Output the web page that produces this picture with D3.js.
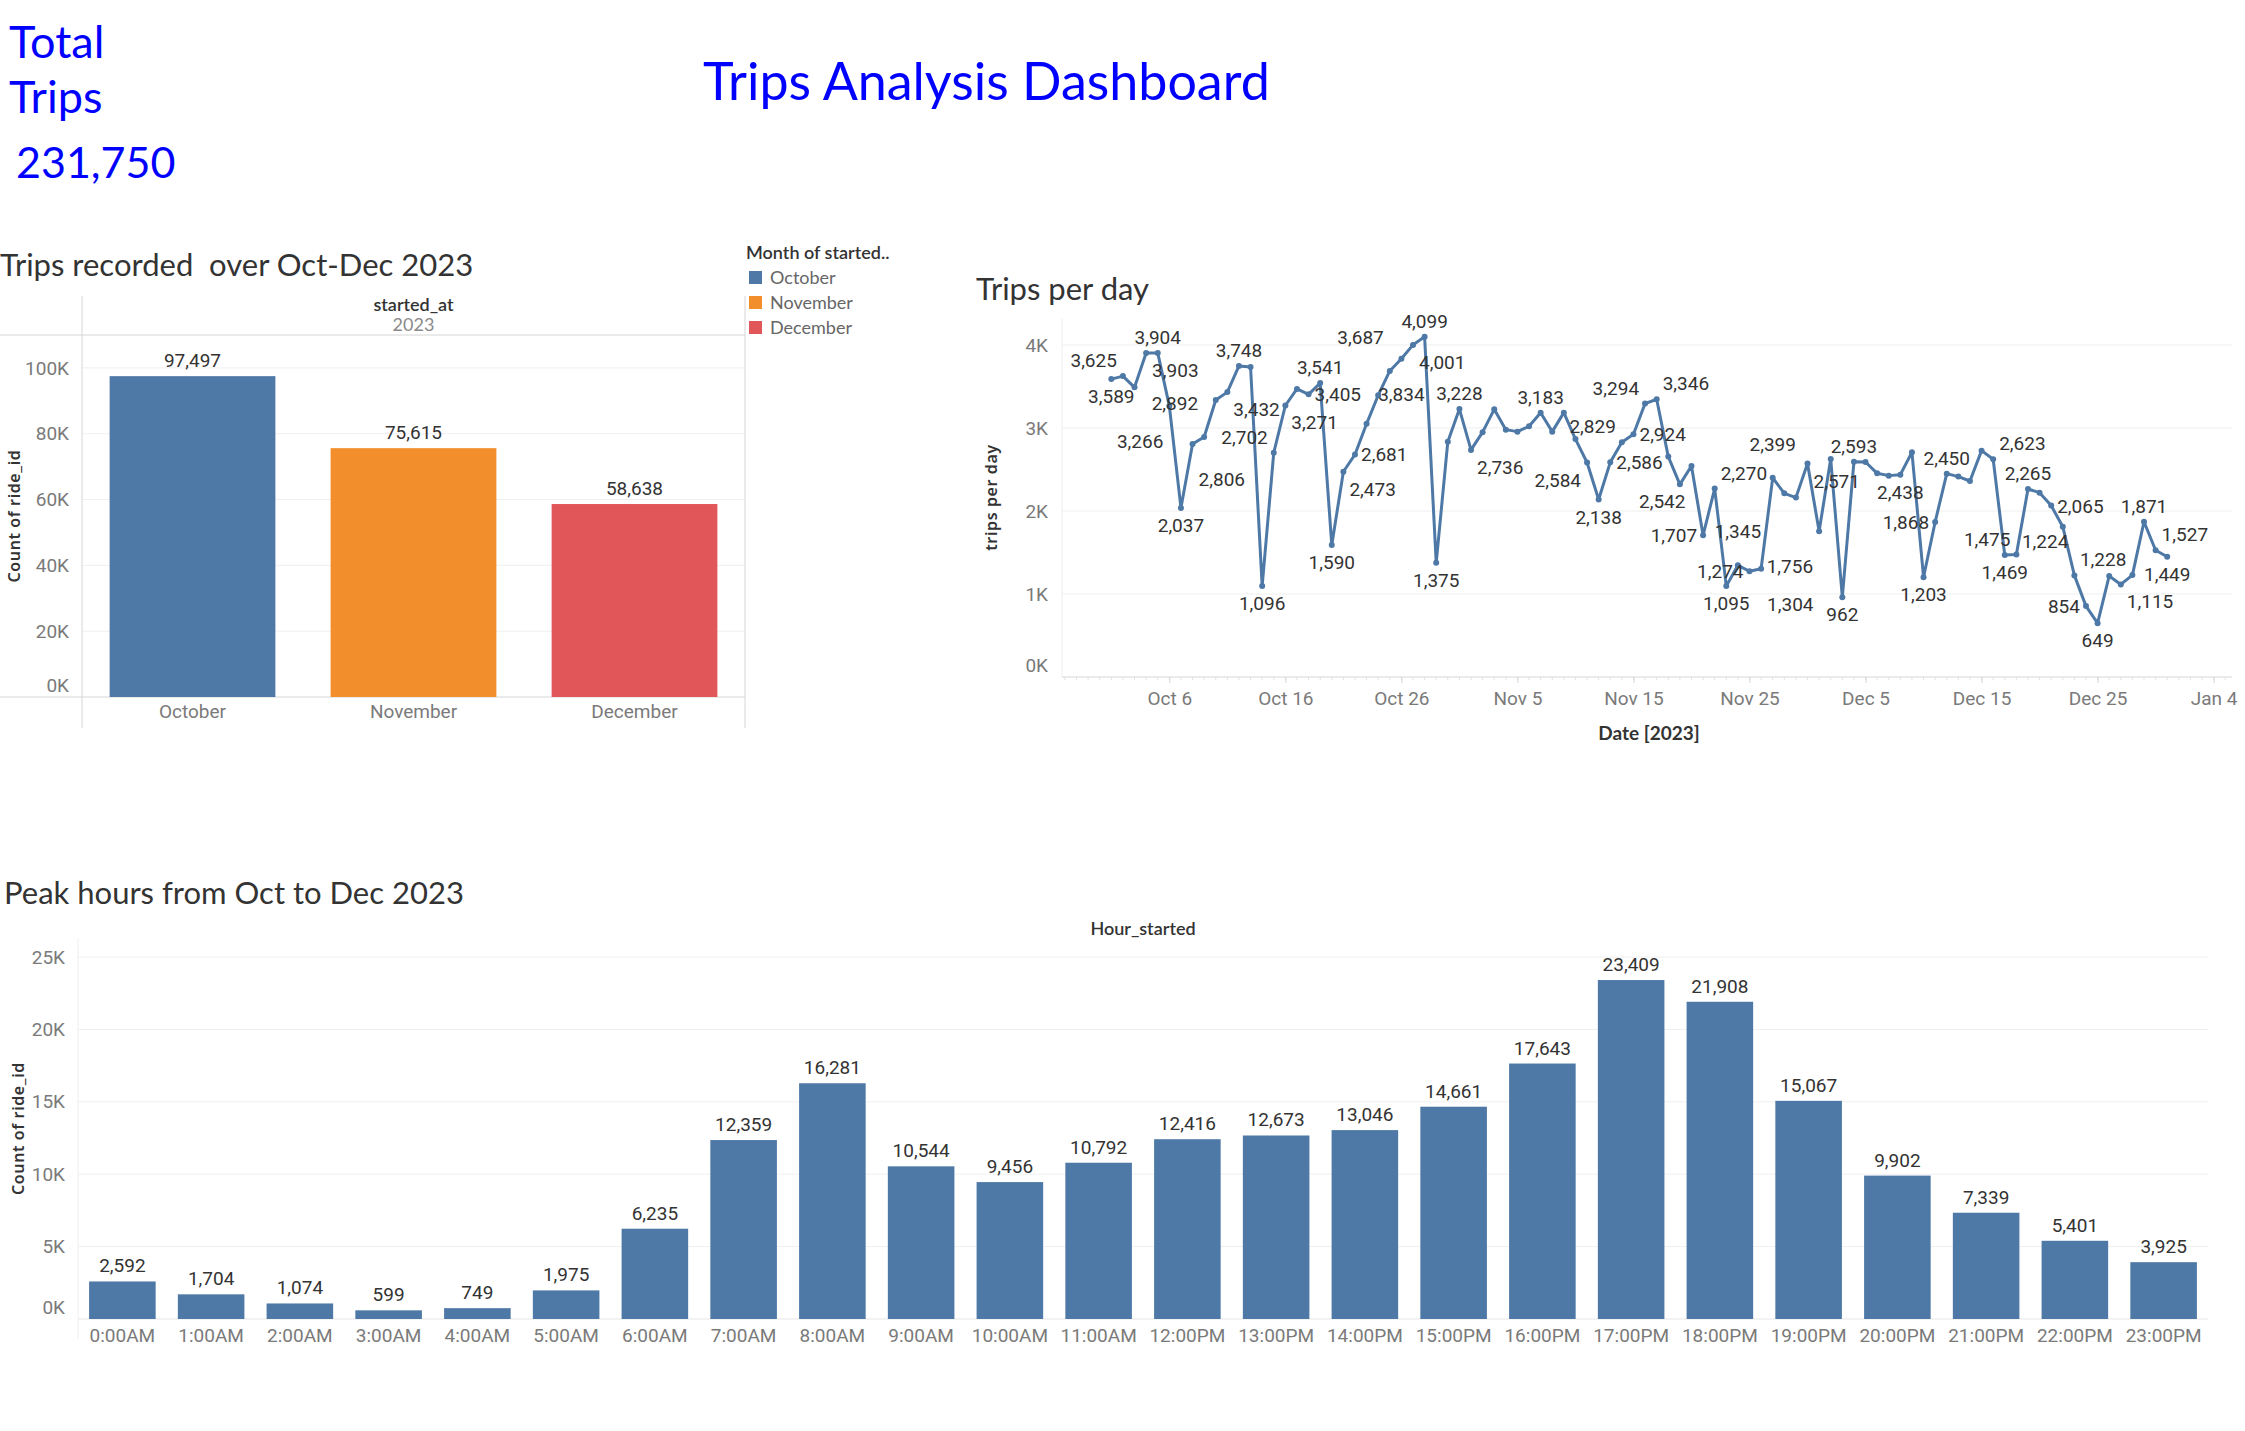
<!DOCTYPE html>
<html>
<head>
<meta charset="utf-8">
<script src="https://cdn.jsdelivr.net/npm/d3@7"></script>
<style>
  body { margin: 0; background: #fff; }
  svg text { font-family: Lato, "Open Sans", sans-serif; }
  .tick text, .lbl { font-family: Roboto, sans-serif; }
  .tick text { fill: #7a7a7a; font-size: 19px; }
  .lbl { fill: #333; font-size: 19px; }
  .axis-title { font-family: "Noto Sans", sans-serif; font-size: 16px; font-weight: 600; fill: #333; letter-spacing: 0.6px; }
  .chart-title { font-size: 31px; fill: #333; white-space: pre; }
</style>
</head>
<body>
<svg id="dash" width="2245" height="1431"></svg>
<script>
// ---- data ----
var totalTrips = 231750;

var months = ["October", "November", "December"];
var monthTrips = [97497, 75615, 58638];

// trips per day, Oct 1 .. Dec 31 2023
var octDaily = [3589, 3625, 3490, 3903, 3904, 3266, 2037, 2806, 2892, 3337,
                3432, 3748, 3735, 1096, 2702, 3271, 3470, 3405, 3541, 1590,
                2473, 2681, 3050, 3395, 3687, 3834, 4001, 4099, 1375, 2835, 3228];
var novDaily = [2736, 2950, 3225, 2980, 2956, 3020, 3183, 2956, 3185, 2866,
                2584, 2138, 2586, 2829, 2924, 3294, 3346, 2655, 2321, 2542,
                1707, 2270, 1095, 1345, 1274, 1304, 2399, 2213, 2161, 2571];
var decDaily = [1756, 2626, 962, 2593, 2590, 2454, 2426, 2438, 2707, 1203,
                1868, 2450, 2414, 2361, 2727, 2623, 1469, 1475, 2265, 2221,
                2065, 1811, 1224, 854, 649, 1217, 1115, 1228, 1871, 1527, 1449];
// days of each month that carry a mark label
var octLabeled = [1, 2, 4, 5, 6, 7, 8, 9, 11, 12, 14, 15, 16, 18, 19, 20, 21, 22, 25, 26, 27, 28, 29, 31];
var novLabeled = [1, 7, 11, 12, 13, 14, 15, 16, 17, 20, 21, 22, 23, 24, 25, 26, 27, 30];
var decLabeled = [1, 3, 4, 8, 10, 11, 12, 16, 17, 18, 19, 21, 23, 24, 25, 27, 28, 29, 30, 31];

var hours = ["0:00AM", "1:00AM", "2:00AM", "3:00AM", "4:00AM", "5:00AM", "6:00AM", "7:00AM",
             "8:00AM", "9:00AM", "10:00AM", "11:00AM", "12:00PM", "13:00PM", "14:00PM", "15:00PM",
             "16:00PM", "17:00PM", "18:00PM", "19:00PM", "20:00PM", "21:00PM", "22:00PM", "23:00PM"];
var hourTrips = [2592, 1704, 1074, 599, 749, 1975, 6235, 12359, 16281, 10544, 9456, 10792,
                 12416, 12673, 13046, 14661, 17643, 23409, 21908, 15067, 9902, 7339, 5401, 3925];

var blue = "#4e79a7";
var monthColor = d3.scaleOrdinal().domain(months).range([blue, "#f28e2b", "#e15759"]);
var fmt = d3.format(",");
var kFmt = function (d) { return (d / 1000) + "K"; };
var gridColor = "#efefef";
var lineColor = "#d6d6d6";

var svg = d3.select("#dash");

// ---- header ----
svg.append("text").attr("x", 9).attr("y", 58).attr("font-size", 45).attr("fill", "#0000ff").text("Total");
svg.append("text").attr("x", 9).attr("y", 113).attr("font-size", 45).attr("fill", "#0000ff").text("Trips");
svg.append("text").attr("x", 16).attr("y", 178).attr("font-size", 43).attr("fill", "#0000ff").text(fmt(totalTrips));
svg.append("text").attr("x", 703).attr("y", 100).attr("font-size", 52).attr("fill", "#0000ff")
  .text("Trips Analysis Dashboard");

function styleAxis(g) {
  g.select(".domain").remove();
  g.selectAll(".tick line").remove();
}

// ---- monthly bars ----
(function () {
  var left = 82, right = 745, top = 335, bottom = 697;
  var g = svg.append("g");
  g.append("text").attr("class", "chart-title").attr("x", 0).attr("y", 276).text("Trips recorded  over Oct-Dec 2023");

  var x = d3.scaleBand().domain(months).range([left, right]).paddingInner(0.25).paddingOuter(0.125);
  var y = d3.scaleLinear().domain([0, 110000]).range([bottom, top]);

  g.append("text").attr("x", (left + right) / 2).attr("y", 311).attr("text-anchor", "middle")
    .attr("font-size", 18).attr("font-weight", 600).attr("fill", "#333").text("started_at");
  g.append("text").attr("x", (left + right) / 2).attr("y", 331).attr("text-anchor", "middle")
    .attr("font-size", 18).attr("fill", "#8a8a8a").text("2023");

  g.selectAll(".grid").data(y.ticks(5).filter(function (d) { return d > 0; })).join("line")
    .attr("x1", left).attr("x2", right).attr("y1", y).attr("y2", y).attr("stroke", gridColor);

  g.append("line").attr("x1", 0).attr("x2", right).attr("y1", top).attr("y2", top).attr("stroke", lineColor);
  g.append("line").attr("x1", 0).attr("x2", right).attr("y1", bottom).attr("y2", bottom).attr("stroke", lineColor);
  g.append("line").attr("x1", left).attr("x2", left).attr("y1", 296).attr("y2", 728).attr("stroke", lineColor);
  g.append("line").attr("x1", right).attr("x2", right).attr("y1", 296).attr("y2", 728).attr("stroke", lineColor);

  g.selectAll(".bar").data(months).join("rect")
    .attr("x", function (d) { return x(d); })
    .attr("width", x.bandwidth())
    .attr("y", function (d, i) { return y(monthTrips[i]); })
    .attr("height", function (d, i) { return bottom - y(monthTrips[i]); })
    .attr("fill", function (d) { return monthColor(d); });

  g.selectAll(".val").data(months).join("text").attr("class", "lbl")
    .attr("x", function (d) { return x(d) + x.bandwidth() / 2; })
    .attr("y", function (d, i) { return y(monthTrips[i]) - 9; })
    .attr("text-anchor", "middle")
    .text(function (d, i) { return fmt(monthTrips[i]); });

  var ya = g.append("g").attr("transform", "translate(" + left + ",0)")
    .call(d3.axisLeft(y).ticks(5).tickFormat(kFmt).tickPadding(7));
  styleAxis(ya);
  ya.selectAll(".tick").filter(function (d) { return d === 0; }).select("text").attr("dy", "-0.3em");

  var xa = g.append("g").attr("transform", "translate(0," + bottom + ")")
    .call(d3.axisBottom(x).tickSize(0).tickPadding(8));
  styleAxis(xa);

  g.append("text").attr("class", "axis-title")
    .attr("transform", "translate(20," + ((top + bottom) / 2) + ") rotate(-90)")
    .attr("text-anchor", "middle").text("Count of ride_id");

  // legend
  var lg = svg.append("g").attr("transform", "translate(746,0)");
  lg.append("text").attr("x", 0).attr("y", 259).attr("font-size", 18).attr("font-weight", 600)
    .attr("fill", "#333").text("Month of started..");
  lg.selectAll(".sw").data(months).join("rect")
    .attr("x", 3).attr("y", function (d, i) { return 271 + i * 25; })
    .attr("width", 13).attr("height", 13).attr("fill", function (d) { return monthColor(d); });
  lg.selectAll(".lt").data(months).join("text")
    .attr("x", 24).attr("y", function (d, i) { return 284 + i * 25; })
    .attr("font-size", 18).attr("fill", "#666").text(function (d) { return d; });
})();

// ---- trips per day line ----
(function () {
  var left = 1062, right = 2232, top = 318, bottom = 677;
  var g = svg.append("g");
  g.append("text").attr("class", "chart-title").attr("x", 976).attr("y", 300).text("Trips per day");

  var daily = [];
  [octDaily, novDaily, decDaily].forEach(function (arr, m) {
    var lab = [octLabeled, novLabeled, decLabeled][m];
    arr.forEach(function (v, i) {
      daily.push({ date: new Date(Date.UTC(2023, 9 + m, i + 1)), value: v, labeled: lab.indexOf(i + 1) >= 0 });
    });
  });

  var x = d3.scaleUtc()
    .domain([new Date(Date.UTC(2023, 8, 26, 18)), new Date(Date.UTC(2024, 0, 5, 14))])
    .range([left, right]);
  var y = d3.scaleLinear().domain([0, 4325]).range([bottom, top]);

  g.selectAll(".grid").data(y.ticks(4)).join("line")
    .attr("x1", left).attr("x2", right).attr("y1", y).attr("y2", y)
    .attr("stroke", function (d) { return d === 0 ? lineColor : gridColor; });
  g.append("line").attr("x1", left).attr("x2", left).attr("y1", top).attr("y2", bottom).attr("stroke", gridColor);

  // daily minor ticks
  g.selectAll(".minor").data(d3.utcDay.range(new Date(Date.UTC(2023, 8, 27)), new Date(Date.UTC(2024, 0, 6))))
    .join("line").attr("x1", x).attr("x2", x).attr("y1", bottom).attr("y2", bottom + 3).attr("stroke", "#e2e2e2");

  var majors = d3.utcDay.range(new Date(Date.UTC(2023, 9, 6)), new Date(Date.UTC(2024, 0, 5)), 10);
  var xa = g.append("g").attr("transform", "translate(0," + bottom + ")")
    .call(d3.axisBottom(x).tickValues(majors).tickFormat(d3.utcFormat("%b %-d")).tickSize(6).tickPadding(9));
  xa.select(".domain").remove();
  xa.selectAll(".tick line").attr("stroke", "#d6d6d6");

  var ya = g.append("g").attr("transform", "translate(" + left + ",0)")
    .call(d3.axisLeft(y).ticks(4).tickFormat(kFmt).tickPadding(8));
  styleAxis(ya);
  ya.selectAll(".tick").filter(function (d) { return d === 0; }).select("text").attr("dy", "-0.3em");

  g.append("text").attr("class", "axis-title")
    .attr("transform", "translate(997," + ((top + bottom) / 2) + ") rotate(-90)")
    .attr("text-anchor", "middle").text("trips per day");
  g.append("text").attr("x", 1649).attr("y", 740).attr("text-anchor", "middle")
    .attr("font-size", 19).attr("font-weight", 700).attr("fill", "#333").text("Date [2023]");

  var line = d3.line().x(function (d) { return x(d.date); }).y(function (d) { return y(d.value); });
  g.append("path").datum(daily).attr("d", line).attr("fill", "none")
    .attr("stroke", blue).attr("stroke-width", 3).attr("stroke-linejoin", "round");

  g.selectAll(".pt").data(daily).join("circle")
    .attr("cx", function (d) { return x(d.date); }).attr("cy", function (d) { return y(d.value); })
    .attr("r", 3).attr("fill", blue);

  // mark labels: greedy placement plus a few repair passes, avoiding other labels and the line
  var pts = daily.map(function (d) { return [x(d.date), y(d.value)]; });
  function boxHitsLine(b) {
    var n = 0;
    for (var i = 0; i < pts.length - 1; i++) {
      var a = pts[i], c = pts[i + 1];
      if (Math.max(a[0], c[0]) < b.x0 || Math.min(a[0], c[0]) > b.x1) continue;
      for (var t = 0; t <= 1; t += 0.04) {
        var px = a[0] + (c[0] - a[0]) * t, py = a[1] + (c[1] - a[1]) * t;
        if (px > b.x0 && px < b.x1 && py > b.y0 && py < b.y1) n++;
      }
    }
    return n;
  }
  function overlapArea(b, p) {
    var ox = Math.min(b.x1, p.x1) - Math.max(b.x0, p.x0);
    var oy = Math.min(b.y1, p.y1) - Math.max(b.y0, p.y0);
    return ox > 0 && oy > 0 ? ox * oy : 0;
  }

  var labelG = g.append("g");
  var labelIdx = daily.map(function (d, i) { return i; }).filter(function (i) { return daily[i].labeled; });
  var widths = {};
  labelIdx.forEach(function (i) {
    var t = labelG.append("text").attr("class", "lbl").text(fmt(daily[i].value));
    widths[i] = t.node().getComputedTextLength();
    t.remove();
  });

  // candidate spots round a point: column (L/C/R) x row (T2/T/M/B/B2)
  function candidates(i) {
    var d = daily[i], w = widths[i];
    var px = pts[i][0], py = pts[i][1];
    var prev = i > 0 ? daily[i - 1].value : d.value;
    var next = i < daily.length - 1 ? daily[i + 1].value : d.value;
    var cols = { L: px - 6 - w, C: px - w / 2, R: px + 6 };
    var rows = { T2: py - 27, T: py - 9, M: py + 7, B: py + 24, B2: py + 42 };
    var pref;
    if (d.value >= prev && d.value >= next) pref = ["CT", "RT", "LT", "RM", "LM", "RB", "LB", "CB"];
    else if (d.value <= prev && d.value <= next) pref = ["CB", "RB", "LB", "RM", "LM", "RT", "LT", "CT"];
    else if (prev < d.value) pref = ["LT", "RB", "LM", "RM", "CT", "CB", "RT", "LB"];
    else pref = ["RT", "LB", "RM", "LM", "CT", "CB", "LT", "RB"];
    var rest = [];
    Object.keys(cols).forEach(function (cx) {
      Object.keys(rows).forEach(function (ry) {
        var k = cx + ry;
        if (k !== "CM" && pref.indexOf(k) < 0) rest.push(k);
      });
    });
    rest.sort(function (a, b) {
      function dist(k) { return Math.abs(rows[k.slice(1)] - py) + (k[0] === "C" ? 0 : 10); }
      return dist(a) - dist(b);
    });
    return pref.concat(rest).map(function (k) { return [cols[k[0]], rows[k.slice(1)]]; });
  }

  function buildCands(pad) {
    var out = {};
    labelIdx.forEach(function (i) {
      var w = widths[i];
      out[i] = candidates(i).map(function (c, rank) {
        var b = { x0: c[0] - pad, x1: c[0] + w + pad, y0: c[1] - 17 - pad, y1: c[1] + 4 + pad };
        var base = boxHitsLine(b) * 12 + rank * 3;
        var out = b.x1 > 2243 || b.x0 < left + 2;
        if (out) base += 5000;
        return { c: c, b: b, base: base, out: out };
      });
    });
    return out;
  }

  function pick(cands, others) {
    var best = null;
    cands.forEach(function (k) {
      var lab = 0;
      others.forEach(function (p) { var a = overlapArea(k.b, p); if (a > 0) lab += 1000 + a * 5; });
      var score = k.base + lab;
      if (!best || score < best.score) best = { score: score, k: k };
    });
    return best.k;
  }

  function placeAll(order, cands) {
    var chosen = {}, placed = [];
    order.forEach(function (i) {
      var k = pick(cands[i], placed);
      chosen[i] = k;
      placed.push(k.b);
    });
    for (var pass = 0; pass < 8; pass++) {
      labelIdx.forEach(function (i) {
        var others = labelIdx.filter(function (j) { return j !== i; }).map(function (j) { return chosen[j].b; });
        chosen[i] = pick(cands[i], others);
      });
    }
    var clashes = 0, total = 0;
    labelIdx.forEach(function (i, a) {
      total += chosen[i].base;
      if (chosen[i].out) clashes++;
      labelIdx.slice(a + 1).forEach(function (j) {
        if (overlapArea(chosen[i].b, chosen[j].b) > 0) { clashes++; total += 1000; }
      });
    });
    return { chosen: chosen, clashes: clashes, total: total };
  }

  function prom(i) {
    var p = i > 0 ? daily[i - 1].value : daily[i].value;
    var n = i < daily.length - 1 ? daily[i + 1].value : daily[i].value;
    return Math.abs(daily[i].value - (p + n) / 2);
  }
  var byProm = labelIdx.slice().sort(function (a, b) { return prom(b) - prom(a); });
  var orders = [byProm, labelIdx.slice(), labelIdx.slice().reverse()];
  var tries = [];
  [3, 2].forEach(function (pad) {
    var cands = buildCands(pad);
    orders.forEach(function (o) { tries.push(placeAll(o, cands)); });
  });
  tries.sort(function (a, b) { return a.clashes - b.clashes || a.total - b.total; });
  var chosen = tries[0].chosen;

  labelG.selectAll("text").data(labelIdx).join("text").attr("class", "lbl")
    .attr("x", function (i) { return chosen[i].c[0]; })
    .attr("y", function (i) { return chosen[i].c[1]; })
    .text(function (i) { return fmt(daily[i].value); });
})();

// ---- peak hours bars ----
(function () {
  var left = 78, right = 2208, top = 938, bottom = 1319;
  var g = svg.append("g");
  g.append("text").attr("class", "chart-title").attr("x", 4).attr("y", 904).text("Peak hours from Oct to Dec 2023");
  g.append("text").attr("x", 1143).attr("y", 935).attr("text-anchor", "middle")
    .attr("font-size", 18).attr("font-weight", 600).attr("fill", "#333").text("Hour_started");

  var x = d3.scaleBand().domain(hours).range([left, right]).paddingInner(0.25).paddingOuter(0.125);
  var y = d3.scaleLinear().domain([0, 25000]).range([bottom, 957]);

  g.selectAll(".grid").data(y.ticks(5).filter(function (d) { return d > 0; })).join("line")
    .attr("x1", left).attr("x2", right).attr("y1", y).attr("y2", y).attr("stroke", gridColor);
  g.append("line").attr("x1", left).attr("x2", right).attr("y1", bottom).attr("y2", bottom).attr("stroke", "#e6e6e6");
  g.append("line").attr("x1", left).attr("x2", left).attr("y1", top).attr("y2", bottom + 20).attr("stroke", gridColor);

  g.selectAll(".bar").data(hours).join("rect")
    .attr("x", function (d) { return x(d); })
    .attr("width", x.bandwidth())
    .attr("y", function (d, i) { return y(hourTrips[i]); })
    .attr("height", function (d, i) { return bottom - y(hourTrips[i]); })
    .attr("fill", blue);

  g.selectAll(".val").data(hours).join("text").attr("class", "lbl")
    .attr("x", function (d) { return x(d) + x.bandwidth() / 2; })
    .attr("y", function (d, i) { return y(hourTrips[i]) - 9; })
    .attr("text-anchor", "middle")
    .text(function (d, i) { return fmt(hourTrips[i]); });

  var ya = g.append("g").attr("transform", "translate(" + left + ",0)")
    .call(d3.axisLeft(y).ticks(5).tickFormat(kFmt).tickPadding(7));
  styleAxis(ya);
  ya.selectAll(".tick").filter(function (d) { return d === 0; }).select("text").attr("dy", "-0.3em");

  var xa = g.append("g").attr("transform", "translate(0," + bottom + ")")
    .call(d3.axisBottom(x).tickSize(0).tickPadding(10));
  styleAxis(xa);

  g.append("text").attr("class", "axis-title")
    .attr("transform", "translate(24," + ((top + bottom) / 2) + ") rotate(-90)")
    .attr("text-anchor", "middle").text("Count of ride_id");
})();
</script>
</body>
</html>
